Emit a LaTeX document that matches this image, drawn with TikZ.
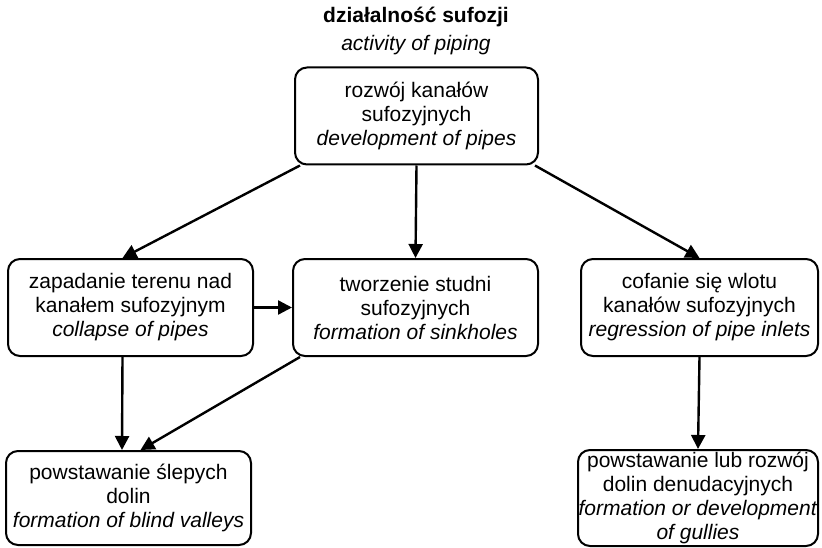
\documentclass[tikz,border=0pt]{standalone}
\usepackage{fontspec}
\setmainfont{Liberation Sans}
\usetikzlibrary{arrows.meta}
\begin{document}
\begin{tikzpicture}[x=1pt,y=-1pt,
  box/.style={draw,line width=2pt,rounded corners=12pt,align=center,inner sep=0pt,
    minimum width=#1,minimum height=97pt,font=\fontsize{21}{24}\selectfont},
  arr/.style={line width=2.4pt,-{Triangle[length=14pt,width=14pt]}}]
\useasboundingbox (0,0) rectangle (822,548);
\node[align=center,font=\fontsize{21}{28}\selectfont] (title) at (416,31)
  {\textbf{działalność sufozji}\\ \textit{activity of piping}};
\node[box=243pt] (top) at (416.5,116) {rozwój kanałów\\ sufozyjnych\\ \textit{development of pipes}};
\node[box=245pt] (collapse) at (130.5,307.5) {zapadanie terenu nad\\ kanałem sufozyjnym\\ \textit{collapse of pipes}};
\node[box=245pt] (sinkholes) at (415.5,307.5) {tworzenie studni\\ sufozyjnych\\ \textit{formation of sinkholes}};
\node[box=237pt] (inlets) at (699.5,307.5) {cofanie się wlotu\\ kanałów sufozyjnych\\ \textit{regression of pipe inlets}};
\node[box=245pt,minimum height=94pt] (blind) at (128.5,498) {powstawanie ślepych\\ dolin\\ \textit{formation of blind valleys}};
\node[box=240pt,minimum height=96pt] (gullies) at (698,498) {powstawanie lub rozwój\\ dolin denudacyjnych\\ \textit{formation or development}\\ \textit{of gullies}};

\draw[arr] ([xshift=6pt]top.south west) -- ([xshift=-8pt]collapse.north);
\draw[arr] (top.south) -- (sinkholes.north);
\draw[arr] ([xshift=-4pt]top.south east) -- (inlets.north);
\draw[arr] (collapse.east) -- (sinkholes.west);
\draw[arr] ([xshift=-8pt]collapse.south) -- ([xshift=-6.5pt]blind.north);
\draw[arr] ([xshift=8pt]sinkholes.south west) -- ([xshift=12pt]blind.north);
\draw[arr] (inlets.south) -- (gullies.north);
\end{tikzpicture}
\end{document}
